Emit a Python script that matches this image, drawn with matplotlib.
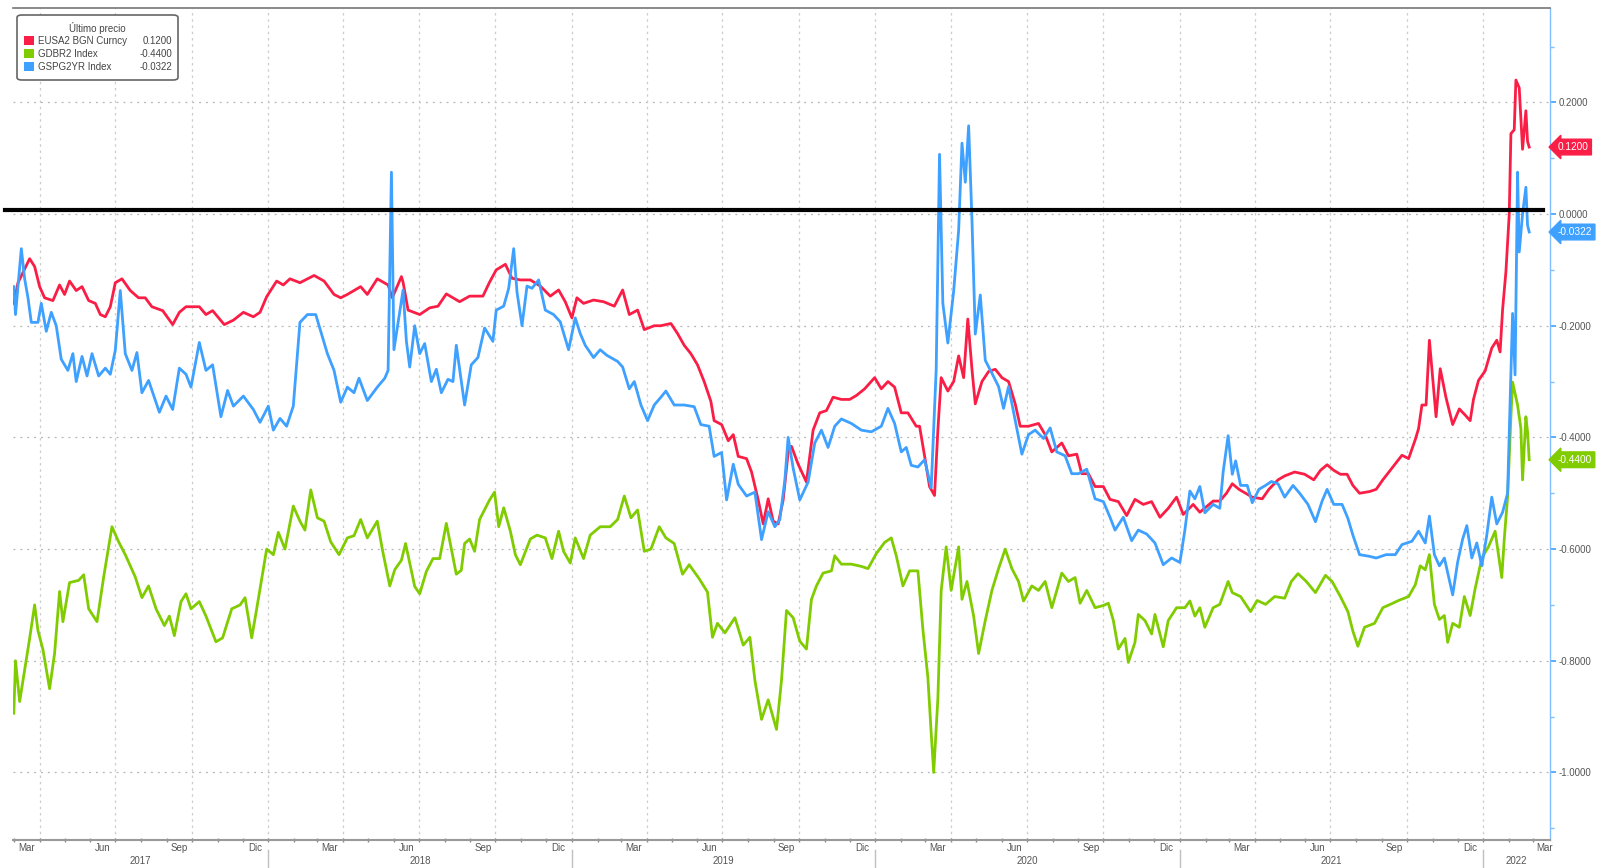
import numpy as np
import pandas as pd
import matplotlib
matplotlib.use("Agg")
import matplotlib.pyplot as plt
import matplotlib.dates as mdates
from matplotlib.patches import FancyBboxPatch, Rectangle
from matplotlib.ticker import MultipleLocator, FormatStrFormatter
import matplotlib.transforms as mtransforms

plt.rcParams['font.family'] = ['Liberation Sans', 'DejaVu Sans']

series_names = ["EUSA2 BGN Curncy", "GDBR2 Index", "GSPG2YR Index"]
last_values = [0.1200, -0.4400, -0.0322]
colors = ["#fa1e46", "#80cc00", "#3ea0ff"]

red_dates = ["2017-03-01","2017-03-06","2017-03-20","2017-03-26","2017-04-01","2017-04-07","2017-04-17","2017-04-25",
    "2017-05-01","2017-05-07","2017-05-15","2017-05-22","2017-05-30","2017-06-07","2017-06-13","2017-06-19","2017-06-25",
    "2017-07-01","2017-07-09","2017-07-19","2017-07-29","2017-08-06","2017-08-14","2017-08-27","2017-09-08","2017-09-16",
    "2017-09-24","2017-10-02","2017-10-10","2017-10-18","2017-10-26","2017-11-09","2017-11-20","2017-12-02","2017-12-14",
    "2017-12-22","2017-12-30","2018-01-11","2018-01-19","2018-01-27","2018-02-08","2018-02-25","2018-03-09","2018-03-21",
    "2018-03-29","2018-04-06","2018-04-22","2018-04-30","2018-05-12","2018-05-25","2018-05-30","2018-06-10","2018-06-12",
    "2018-06-18","2018-07-02","2018-07-14","2018-07-24","2018-08-03","2018-08-19","2018-08-31","2018-09-16","2018-09-24",
    "2018-10-02","2018-10-13","2018-10-21","2018-10-31","2018-11-12","2018-11-24","2018-12-06","2018-12-16","2018-12-24",
    "2019-01-01","2019-01-07","2019-01-15","2019-01-27","2019-02-08","2019-02-21","2019-03-03","2019-03-11","2019-03-21",
    "2019-03-29","2019-04-10","2019-04-18","2019-04-30","2019-05-08","2019-05-16","2019-05-24","2019-06-01","2019-06-09",
    "2019-06-17","2019-06-21","2019-06-30","2019-07-08","2019-07-14","2019-07-20","2019-07-30","2019-08-05","2019-08-13",
    "2019-08-19","2019-08-25","2019-08-31","2019-09-06","2019-09-12","2019-09-18","2019-09-22","2019-09-30","2019-10-10",
    "2019-10-18","2019-10-26","2019-11-03","2019-11-11","2019-11-21","2019-12-01","2019-12-09","2019-12-19","2019-12-31",
    "2020-01-08","2020-01-16","2020-01-24","2020-02-01","2020-02-09","2020-02-19","2020-02-23","2020-02-29","2020-03-06",
    "2020-03-12","2020-03-16","2020-03-20","2020-03-28","2020-04-04","2020-04-10","2020-04-16","2020-04-21","2020-04-26",
    "2020-04-30","2020-05-08","2020-05-16","2020-05-24","2020-06-01","2020-06-09","2020-06-17","2020-06-23","2020-07-03",
    "2020-07-15","2020-07-23","2020-07-31","2020-08-12","2020-08-20","2020-08-30","2020-09-05","2020-09-13","2020-09-21",
    "2020-10-01","2020-10-09","2020-10-19","2020-10-29","2020-11-08","2020-11-18","2020-11-28","2020-12-08","2020-12-18",
    "2020-12-28","2021-01-05","2021-01-17","2021-01-25","2021-02-02","2021-02-10","2021-02-18","2021-02-26","2021-03-05",
    "2021-03-13","2021-03-21","2021-03-29","2021-04-10","2021-04-18","2021-04-29","2021-05-07","2021-05-19","2021-05-31",
    "2021-06-11","2021-06-19","2021-06-27","2021-07-05","2021-07-13","2021-07-21","2021-07-28","2021-08-05","2021-08-17",
    "2021-08-25","2021-09-02","2021-09-13","2021-09-25","2021-10-03","2021-10-11","2021-10-15","2021-10-19","2021-10-24",
    "2021-10-28","2021-11-05","2021-11-10","2021-11-17","2021-11-25","2021-12-03","2021-12-10","2021-12-16","2021-12-20",
    "2021-12-26","2022-01-03","2022-01-11","2022-01-17","2022-01-21","2022-01-24","2022-01-28","2022-02-01","2022-02-03",
    "2022-02-07","2022-02-09","2022-02-13","2022-02-17","2022-02-21","2022-02-23","2022-02-25"]
red_vals = [-0.160,-0.123,-0.080,-0.094,-0.130,-0.150,-0.155,-0.127,
    -0.144,-0.120,-0.137,-0.130,-0.155,-0.160,-0.180,-0.184,-0.166,
    -0.123,-0.116,-0.137,-0.150,-0.150,-0.166,-0.173,-0.198,-0.176,
    -0.166,-0.166,-0.166,-0.180,-0.173,-0.198,-0.190,-0.176,-0.184,
    -0.176,-0.148,-0.120,-0.127,-0.116,-0.123,-0.110,-0.120,-0.144,
    -0.150,-0.144,-0.130,-0.144,-0.116,-0.127,-0.150,-0.112,-0.122,
    -0.172,-0.180,-0.168,-0.165,-0.143,-0.157,-0.147,-0.147,-0.122,
    -0.100,-0.090,-0.115,-0.118,-0.118,-0.129,-0.147,-0.136,-0.157,
    -0.186,-0.150,-0.160,-0.154,-0.157,-0.165,-0.136,-0.180,-0.172,
    -0.207,-0.200,-0.200,-0.196,-0.214,-0.235,-0.250,-0.270,-0.300,
    -0.335,-0.370,-0.377,-0.406,-0.395,-0.434,-0.438,-0.462,-0.512,
    -0.555,-0.510,-0.550,-0.555,-0.512,-0.427,-0.416,-0.448,-0.480,
    -0.387,-0.356,-0.352,-0.328,-0.332,-0.332,-0.325,-0.313,-0.293,
    -0.313,-0.300,-0.310,-0.356,-0.356,-0.380,-0.380,-0.433,-0.488,
    -0.504,-0.387,-0.293,-0.317,-0.300,-0.254,-0.293,-0.188,-0.278,
    -0.340,-0.300,-0.282,-0.278,-0.293,-0.300,-0.340,-0.380,-0.380,
    -0.375,-0.395,-0.426,-0.410,-0.433,-0.430,-0.465,-0.465,-0.488,
    -0.488,-0.511,-0.515,-0.540,-0.511,-0.520,-0.515,-0.543,-0.527,
    -0.507,-0.538,-0.520,-0.534,-0.524,-0.514,-0.514,-0.500,-0.483,
    -0.493,-0.500,-0.507,-0.510,-0.493,-0.476,-0.469,-0.462,-0.466,
    -0.476,-0.459,-0.449,-0.459,-0.466,-0.466,-0.486,-0.500,-0.497,
    -0.493,-0.476,-0.455,-0.432,-0.438,-0.404,-0.384,-0.342,-0.342,
    -0.226,-0.363,-0.277,-0.329,-0.377,-0.349,-0.360,-0.370,-0.332,
    -0.298,-0.281,-0.240,-0.226,-0.247,-0.171,-0.103,0.000,0.144,
    0.151,0.240,0.226,0.116,0.185,0.130,0.120]

green_dates = ["2017-03-01","2017-03-03","2017-03-08","2017-03-14","2017-03-20","2017-03-26","2017-03-30","2017-04-05",
    "2017-04-13","2017-04-19","2017-04-25","2017-04-29","2017-05-07","2017-05-18","2017-05-24","2017-05-30","2017-06-09",
    "2017-06-17","2017-06-27","2017-07-05","2017-07-13","2017-07-25","2017-08-02","2017-08-10","2017-08-19","2017-08-29",
    "2017-09-04","2017-09-10","2017-09-18","2017-09-24","2017-09-30","2017-10-10","2017-10-18","2017-10-30","2017-11-07",
    "2017-11-18","2017-11-28","2017-12-04","2017-12-12","2017-12-18","2017-12-30","2018-01-07","2018-01-13","2018-01-21",
    "2018-01-31","2018-02-08","2018-02-14","2018-02-21","2018-03-01","2018-03-09","2018-03-17","2018-03-27","2018-04-06",
    "2018-04-14","2018-04-22","2018-04-30","2018-05-12","2018-05-18","2018-05-27","2018-06-02","2018-06-10","2018-06-15",
    "2018-06-20","2018-06-26","2018-07-02","2018-07-10","2018-07-18","2018-07-26","2018-08-03","2018-08-09","2018-08-15",
    "2018-08-21","2018-08-25","2018-08-31","2018-09-06","2018-09-12","2018-09-24","2018-09-30","2018-10-05","2018-10-11",
    "2018-10-19","2018-10-25","2018-10-31","2018-11-12","2018-11-20","2018-11-30","2018-12-08","2018-12-16","2018-12-22",
    "2018-12-30","2019-01-05","2019-01-15","2019-01-23","2019-02-04","2019-02-16","2019-02-25","2019-03-05","2019-03-13",
    "2019-03-21","2019-03-29","2019-04-06","2019-04-16","2019-04-24","2019-05-04","2019-05-14","2019-05-22","2019-06-03",
    "2019-06-13","2019-06-19","2019-06-25","2019-07-04","2019-07-16","2019-07-26","2019-08-03","2019-08-09","2019-08-17",
    "2019-08-25","2019-09-04","2019-09-10","2019-09-16","2019-09-24","2019-10-02","2019-10-10","2019-10-16","2019-10-22",
    "2019-10-30","2019-11-09","2019-11-13","2019-11-21","2019-12-03","2019-12-15","2019-12-23","2020-01-02","2020-01-12",
    "2020-01-20","2020-01-26","2020-02-03","2020-02-11","2020-02-21","2020-02-27","2020-03-04","2020-03-08","2020-03-11",
    "2020-03-16","2020-03-20","2020-03-26","2020-04-01","2020-04-10","2020-04-14","2020-04-20","2020-04-28","2020-05-04",
    "2020-05-12","2020-05-20","2020-05-28","2020-06-05","2020-06-13","2020-06-21","2020-06-27","2020-07-07","2020-07-15",
    "2020-07-23","2020-07-31","2020-08-12","2020-08-20","2020-08-28","2020-09-03","2020-09-11","2020-09-21","2020-10-01",
    "2020-10-07","2020-10-13","2020-10-19","2020-10-27","2020-10-31","2020-11-08","2020-11-12","2020-11-20","2020-11-28",
    "2020-12-02","2020-12-12","2020-12-18","2020-12-28","2021-01-07","2021-01-13","2021-01-19","2021-01-25","2021-01-31",
    "2021-02-10","2021-02-18","2021-02-28","2021-03-05","2021-03-15","2021-03-27","2021-04-04","2021-04-14","2021-04-25",
    "2021-05-07","2021-05-15","2021-05-23","2021-06-02","2021-06-13","2021-06-25","2021-07-03","2021-07-13","2021-07-22",
    "2021-07-28","2021-08-03","2021-08-11","2021-08-23","2021-09-02","2021-09-11","2021-09-21","2021-10-03","2021-10-11",
    "2021-10-17","2021-10-23","2021-10-28","2021-11-03","2021-11-09","2021-11-15","2021-11-19","2021-11-25","2021-12-03",
    "2021-12-09","2021-12-16","2021-12-22","2021-12-30","2022-01-07","2022-01-15","2022-01-21","2022-01-23","2022-01-26",
    "2022-01-30","2022-02-03","2022-02-05","2022-02-11","2022-02-15","2022-02-17","2022-02-21","2022-02-23","2022-02-25"]
green_vals = [-0.894,-0.800,-0.873,-0.816,-0.760,-0.700,-0.746,-0.780,
    -0.850,-0.787,-0.676,-0.730,-0.660,-0.656,-0.646,-0.707,-0.730,
    -0.650,-0.560,-0.587,-0.610,-0.650,-0.687,-0.666,-0.707,-0.737,
    -0.720,-0.755,-0.694,-0.680,-0.707,-0.694,-0.720,-0.766,-0.759,
    -0.707,-0.700,-0.687,-0.759,-0.707,-0.600,-0.610,-0.570,-0.600,
    -0.523,-0.550,-0.566,-0.494,-0.544,-0.550,-0.587,-0.610,-0.580,
    -0.576,-0.547,-0.580,-0.550,-0.600,-0.666,-0.637,-0.620,-0.590,
    -0.625,-0.667,-0.680,-0.640,-0.617,-0.617,-0.554,-0.600,-0.645,
    -0.638,-0.590,-0.582,-0.604,-0.547,-0.512,-0.498,-0.560,-0.526,
    -0.568,-0.610,-0.628,-0.582,-0.575,-0.580,-0.617,-0.568,-0.604,
    -0.625,-0.580,-0.617,-0.575,-0.560,-0.560,-0.547,-0.505,-0.544,
    -0.530,-0.604,-0.600,-0.560,-0.580,-0.590,-0.645,-0.628,-0.653,
    -0.677,-0.758,-0.733,-0.750,-0.723,-0.772,-0.758,-0.835,-0.905,
    -0.870,-0.923,-0.835,-0.710,-0.723,-0.765,-0.779,-0.690,-0.666,
    -0.643,-0.639,-0.612,-0.627,-0.627,-0.631,-0.635,-0.608,-0.588,
    -0.580,-0.612,-0.666,-0.639,-0.639,-0.744,-0.830,-0.930,-1.000,
    -0.868,-0.674,-0.596,-0.674,-0.596,-0.690,-0.658,-0.720,-0.787,
    -0.728,-0.674,-0.635,-0.600,-0.635,-0.658,-0.693,-0.666,-0.674,
    -0.658,-0.705,-0.643,-0.658,-0.651,-0.697,-0.674,-0.705,-0.701,
    -0.697,-0.728,-0.779,-0.760,-0.803,-0.767,-0.717,-0.728,-0.752,
    -0.717,-0.775,-0.728,-0.705,-0.705,-0.693,-0.720,-0.705,-0.740,
    -0.705,-0.699,-0.658,-0.678,-0.685,-0.712,-0.692,-0.699,-0.685,
    -0.688,-0.658,-0.644,-0.658,-0.678,-0.647,-0.658,-0.685,-0.712,
    -0.747,-0.774,-0.740,-0.733,-0.705,-0.699,-0.692,-0.685,-0.664,
    -0.630,-0.637,-0.610,-0.699,-0.726,-0.719,-0.767,-0.733,-0.740,
    -0.685,-0.719,-0.671,-0.616,-0.596,-0.568,-0.630,-0.651,-0.582,
    -0.507,-0.363,-0.301,-0.342,-0.384,-0.476,-0.363,-0.390,-0.440]

blue_dates = ["2017-03-01","2017-03-03","2017-03-10","2017-03-14","2017-03-18","2017-03-22","2017-03-30","2017-04-03",
    "2017-04-09","2017-04-15","2017-04-21","2017-04-27","2017-05-05","2017-05-11","2017-05-15","2017-05-22","2017-05-28",
    "2017-06-03","2017-06-11","2017-06-19","2017-06-25","2017-07-01","2017-07-07","2017-07-13","2017-07-21","2017-07-27",
    "2017-08-02","2017-08-10","2017-08-23","2017-08-31","2017-09-08","2017-09-16","2017-09-24","2017-09-30","2017-10-10",
    "2017-10-18","2017-10-26","2017-11-05","2017-11-13","2017-11-20","2017-12-02","2017-12-14","2017-12-22","2018-01-01",
    "2018-01-07","2018-01-15","2018-01-23","2018-01-31","2018-02-08","2018-02-17","2018-02-27","2018-03-05","2018-03-13",
    "2018-03-21","2018-03-29","2018-04-06","2018-04-14","2018-04-20","2018-04-30","2018-05-12","2018-05-21","2018-05-25",
    "2018-05-29","2018-06-01","2018-06-12","2018-06-16","2018-06-20","2018-06-26","2018-07-02","2018-07-08","2018-07-16",
    "2018-07-22","2018-07-28","2018-08-05","2018-08-11","2018-08-15","2018-08-25","2018-09-02","2018-09-10","2018-09-18",
    "2018-09-28","2018-10-02","2018-10-11","2018-10-17","2018-10-23","2018-10-27","2018-11-02","2018-11-08","2018-11-14",
    "2018-11-22","2018-11-30","2018-12-10","2018-12-18","2018-12-28","2019-01-05","2019-01-11","2019-01-17","2019-01-27",
    "2019-02-04","2019-02-12","2019-02-25","2019-03-03","2019-03-11","2019-03-17","2019-03-25","2019-04-02","2019-04-10",
    "2019-04-18","2019-04-24","2019-05-04","2019-05-16","2019-05-28","2019-06-05","2019-06-15","2019-06-21","2019-06-30",
    "2019-07-06","2019-07-14","2019-07-20","2019-07-30","2019-08-09","2019-08-17","2019-08-25","2019-09-02","2019-09-08",
    "2019-09-14","2019-09-18","2019-09-24","2019-10-02","2019-10-12","2019-10-20","2019-10-28","2019-11-05","2019-11-13",
    "2019-11-21","2019-12-03","2019-12-15","2019-12-27","2020-01-08","2020-01-16","2020-01-24","2020-02-01","2020-02-07",
    "2020-02-13","2020-02-21","2020-02-29","2020-03-08","2020-03-14","2020-03-18","2020-03-22","2020-03-28","2020-04-04",
    "2020-04-10","2020-04-14","2020-04-18","2020-04-22","2020-04-26","2020-04-30","2020-05-06","2020-05-12","2020-05-20",
    "2020-05-28","2020-06-03","2020-06-09","2020-06-17","2020-06-25","2020-07-03","2020-07-11","2020-07-21","2020-07-29",
    "2020-08-06","2020-08-16","2020-08-24","2020-09-01","2020-09-11","2020-09-21","2020-10-01","2020-10-09","2020-10-15",
    "2020-10-25","2020-11-04","2020-11-12","2020-11-22","2020-12-02","2020-12-12","2020-12-22","2021-01-01","2021-01-07",
    "2021-01-13","2021-01-19","2021-01-25","2021-01-31","2021-02-10","2021-02-18","2021-02-22","2021-02-28","2021-03-05",
    "2021-03-09","2021-03-15","2021-03-23","2021-03-29","2021-04-06","2021-04-14","2021-04-21","2021-04-29","2021-05-07",
    "2021-05-17","2021-05-25","2021-06-04","2021-06-13","2021-06-21","2021-06-27","2021-07-05","2021-07-15","2021-07-22",
    "2021-07-28","2021-08-05","2021-08-17","2021-08-25","2021-09-06","2021-09-17","2021-09-25","2021-10-07","2021-10-15",
    "2021-10-23","2021-10-28","2021-11-03","2021-11-09","2021-11-15","2021-11-25","2021-12-01","2021-12-07","2021-12-12",
    "2021-12-18","2021-12-24","2021-12-30","2022-01-05","2022-01-11","2022-01-17","2022-01-24","2022-01-30","2022-02-03",
    "2022-02-05","2022-02-08","2022-02-11","2022-02-13","2022-02-17","2022-02-21","2022-02-23","2022-02-25"]
blue_vals = [-0.130,-0.180,-0.062,-0.116,-0.150,-0.194,-0.194,-0.160,
    -0.210,-0.176,-0.200,-0.260,-0.280,-0.250,-0.300,-0.255,-0.290,
    -0.250,-0.290,-0.276,-0.287,-0.244,-0.137,-0.250,-0.280,-0.248,
    -0.320,-0.298,-0.355,-0.326,-0.350,-0.276,-0.287,-0.310,-0.230,
    -0.280,-0.270,-0.363,-0.316,-0.344,-0.326,-0.350,-0.373,-0.344,
    -0.387,-0.366,-0.380,-0.344,-0.194,-0.180,-0.180,-0.210,-0.250,
    -0.280,-0.337,-0.310,-0.320,-0.294,-0.334,-0.310,-0.294,-0.280,
    0.075,-0.243,-0.136,-0.228,-0.274,-0.200,-0.250,-0.232,-0.300,
    -0.278,-0.320,-0.296,-0.300,-0.235,-0.342,-0.270,-0.257,-0.204,
    -0.228,-0.172,-0.165,-0.133,-0.062,-0.140,-0.200,-0.129,-0.133,
    -0.118,-0.172,-0.180,-0.193,-0.243,-0.186,-0.214,-0.235,-0.257,
    -0.243,-0.253,-0.264,-0.274,-0.313,-0.300,-0.342,-0.370,-0.342,
    -0.328,-0.317,-0.342,-0.342,-0.345,-0.377,-0.380,-0.434,-0.427,
    -0.512,-0.448,-0.484,-0.505,-0.498,-0.583,-0.533,-0.560,-0.547,
    -0.477,-0.400,-0.455,-0.512,-0.480,-0.410,-0.387,-0.418,-0.380,
    -0.367,-0.375,-0.387,-0.390,-0.380,-0.348,-0.375,-0.426,-0.418,
    -0.450,-0.453,-0.440,-0.490,-0.278,0.107,-0.160,-0.231,-0.138,
    -0.029,0.127,0.057,0.158,-0.010,-0.215,-0.145,-0.262,-0.285,
    -0.309,-0.348,-0.309,-0.370,-0.430,-0.395,-0.387,-0.402,-0.383,
    -0.426,-0.433,-0.465,-0.465,-0.457,-0.510,-0.515,-0.543,-0.566,
    -0.543,-0.585,-0.566,-0.573,-0.589,-0.628,-0.616,-0.624,-0.566,
    -0.496,-0.510,-0.488,-0.535,-0.520,-0.527,-0.462,-0.397,-0.466,
    -0.442,-0.486,-0.486,-0.517,-0.493,-0.486,-0.479,-0.483,-0.507,
    -0.486,-0.500,-0.520,-0.551,-0.514,-0.493,-0.520,-0.520,-0.545,
    -0.575,-0.610,-0.613,-0.616,-0.610,-0.610,-0.592,-0.586,-0.568,
    -0.589,-0.541,-0.610,-0.630,-0.616,-0.682,-0.623,-0.582,-0.558,
    -0.616,-0.589,-0.630,-0.575,-0.507,-0.555,-0.534,-0.500,-0.288,
    -0.178,-0.288,0.075,-0.068,0.000,0.048,-0.020,-0.032]

month_names = {3: "Mar", 6: "Jun", 9: "Sep", 12: "Dic"}
years = [2017, 2018, 2019, 2020, 2021, 2022]

W, H = 1601, 868
fig = plt.figure(figsize=(W / 100, H / 100), dpi=100)
ax_l, ax_r, ax_t, ax_b = 13, 1550, 8, 840
ax = fig.add_axes([ax_l / W, 1 - ax_b / H, (ax_r - ax_l) / W, (ax_b - ax_t) / H])

x0 = pd.Timestamp("2017-02-28")
x1 = pd.Timestamp("2022-03-22")
ax.set_xlim(x0, x1)
ax.set_ylim(-1.121, 0.369)

# grid
for v in np.arange(-1.0, 0.21, 0.2):
    ax.axhline(v, color="#b5b5b5", lw=0.9, ls=(0, (1.5, 4)), zorder=1)
for d in pd.date_range("2017-04-01", "2022-01-01", freq="QS"):
    ax.axvline(d, color="#cccccc", lw=0.9, ls=(0, (2, 3)), zorder=1)

# series
for dates, vals, c in [(green_dates, green_vals, colors[1]),
                       (red_dates, red_vals, colors[0]),
                       (blue_dates, blue_vals, colors[2])]:
    ax.plot(pd.to_datetime(dates), vals, color=c, lw=2.0, solid_joinstyle="round", zorder=3)

# black zero line drawn over the chart
ax.axhline(0.007, xmin=-8 / 1537, xmax=(1543 - 13) / 1537, color="black", lw=3.0, clip_on=False, zorder=5)

# spines
ax.spines["left"].set_visible(False)
ax.spines["top"].set_color("#777777")
ax.spines["top"].set_linewidth(1.2)
ax.spines["bottom"].set_color("#999999")
ax.spines["bottom"].set_linewidth(1.5)
ax.spines["right"].set_color("#7fbfff")
ax.spines["right"].set_linewidth(1.0)

# y axis on the right
ax.yaxis.tick_right()
ax.yaxis.set_major_locator(MultipleLocator(0.2))
ax.yaxis.set_minor_locator(MultipleLocator(0.1))
ax.yaxis.set_major_formatter(FormatStrFormatter("%.4f"))
ax.tick_params(axis="y", which="major", direction="out", length=4, width=1.2, color="#3ea0ff",
               labelsize=7, labelcolor="#555555", pad=2)
ax.tick_params(axis="y", which="minor", direction="out", length=3, width=1.0, color="#7fbfff")

# x axis: month ticks and quarter labels
ax.xaxis.set_minor_locator(mdates.MonthLocator())
mid = [pd.Timestamp(y, m, 16) for y in years for m in (3, 6, 9, 12)
       if x0 <= pd.Timestamp(y, m, 16) <= x1]
ax.set_xticks(mid)
ax.set_xticklabels([month_names[d.month] for d in mid])
ax.tick_params(axis="x", which="major", length=0, labelsize=7, labelcolor="#555555", pad=2)
ax.tick_params(axis="x", which="minor", length=3, width=1.0, color="#888888", direction="inout")

# year labels and separators
trans = mtransforms.blended_transform_factory(ax.transData, ax.transAxes)
for y in years:
    a = max(pd.Timestamp(y, 1, 1), x0)
    b = min(pd.Timestamp(y + 1, 1, 1), x1)
    ax.text(a + (b - a) / 2, -0.025, str(y), transform=trans, ha="center", va="center",
            fontsize=7, color="#555555")
    if y > 2017:
        ax.plot([pd.Timestamp(y, 1, 1)] * 2, [-0.012, -0.036], transform=trans,
                color="#c0c0c0", lw=1.0, clip_on=False)

# last value tags
for val, c in zip(last_values, colors):
    txt = "%.4f" % val
    ax.text(1.005, val, txt, transform=mtransforms.blended_transform_factory(ax.transAxes, ax.transData),
            ha="left", va="center", fontsize=7.3, color="white",
            bbox=dict(boxstyle="larrow,pad=0.28", fc=c, ec=c), zorder=6, clip_on=False)

# legend box
def fx(x):
    return x / W

def fy(y):
    return 1 - y / H

fig.patches.append(FancyBboxPatch((fx(17), fy(80)), fx(178) - fx(17), fy(15) - fy(80),
                                  boxstyle="round,pad=0,rounding_size=0.003",
                                  transform=fig.transFigure, fc="white", ec="#666666", lw=1.2, zorder=10))
fig.text(fx(97), fy(28), "Último precio", ha="center", va="center", fontsize=7, color="#444444", zorder=11)
row_y = [41, 54, 67]
for i, ry in enumerate(row_y):
    fig.patches.append(Rectangle((fx(24), fy(ry + 4)), fx(34) - fx(24), fy(ry - 5) - fy(ry + 4),
                                 transform=fig.transFigure, fc=colors[i], ec="none", zorder=11))
    fig.text(fx(38), fy(ry), series_names[i], ha="left", va="center", fontsize=7, color="#444444", zorder=11)
    fig.text(fx(172), fy(ry), "%.4f" % last_values[i], ha="right", va="center", fontsize=7,
             color="#444444", zorder=11)

plt.savefig("out.png", dpi=100)
